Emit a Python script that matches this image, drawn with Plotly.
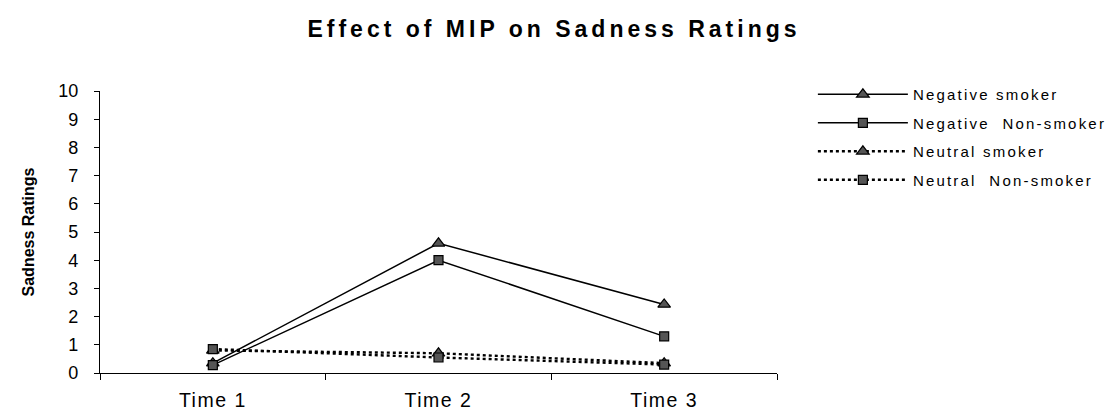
import plotly.graph_objects as go

categories = ["Time 1", "Time 2", "Time 3"]
neg_smoker = [0.35, 4.6, 2.43]
neg_nonsmoker = [0.28, 4.0, 1.3]
neu_smoker = [0.8, 0.7, 0.35]
neu_nonsmoker = [0.85, 0.55, 0.3]
series_names = ["Negative smoker", "Negative  Non-smoker", "Neutral smoker", "Neutral  Non-smoker"]
y_ticks = list(range(0, 11))
title_text = "Effect of MIP on Sadness Ratings"
y_title = "Sadness Ratings"

FONT = "Liberation Sans, Arial, sans-serif"


def spaced(s, px):
    return f'<span style="letter-spacing:{px}px">{s}</span>'


specs = [
    (neg_smoker, series_names[0], "solid", "triangle-up"),
    (neg_nonsmoker, series_names[1], "solid", "square"),
    (neu_smoker, series_names[2], "dot", "triangle-up"),
    (neu_nonsmoker, series_names[3], "dot", "square"),
]

fig = go.Figure()
for i, (vals, name, dash, sym) in enumerate(specs):
    fig.add_trace(go.Scatter(
        x=categories, y=vals, name=spaced(name.replace("  ", "&nbsp; "), 2.2),
        mode="lines+markers", legendgroup=f"g{i}",
        line=dict(color="black", width=1.5 if dash == "solid" else 2.4, dash=dash),
        marker=dict(symbol=sym, size=11 if sym == "triangle-up" else 9,
                    color="#555555", line=dict(color="black", width=1.2)),
    ))

fig.update_layout(
    width=1108, height=412,
    margin=dict(l=100, r=331, t=91, b=39, autoexpand=False),
    paper_bgcolor="white", plot_bgcolor="white",
    font=dict(family=FONT, color="black", size=16),
    title=dict(text=f"<b>{spaced(title_text, 4.0)}</b>", x=0.5, xref="container",
               xanchor="center", y=0.93, yref="container", yanchor="middle",
               font=dict(size=23, family=FONT)),
    showlegend=True,
    legend=dict(x=1.053, xanchor="left", y=1.046, yanchor="top",
                font=dict(size=15, family=FONT), itemwidth=90,
                tracegroupgap=6, traceorder="grouped", bgcolor="rgba(0,0,0,0)"),
    xaxis=dict(type="category", categoryorder="array", categoryarray=categories,
               tickvals=categories, ticktext=[spaced(c, 1.5) for c in categories],
               range=[-0.5, 2.5], showline=True, linecolor="black", linewidth=1.2,
               ticks="outside", tickson="boundaries", ticklen=6, tickcolor="black",
               ticklabelstandoff=9, automargin=False,
               showgrid=False, zeroline=False, tickfont=dict(size=19.5)),
    yaxis=dict(range=[0, 10], tickvals=y_ticks, showline=True, linecolor="black",
               linewidth=1.2, ticks="outside", ticklen=5, tickcolor="black",
               ticklabelstandoff=12, automargin=False,
               showgrid=False, zeroline=False, tickfont=dict(size=18),
               title=dict(text=f"<b>{y_title}</b>", font=dict(size=16), standoff=19)),
)

fig.write_html("out.html")
